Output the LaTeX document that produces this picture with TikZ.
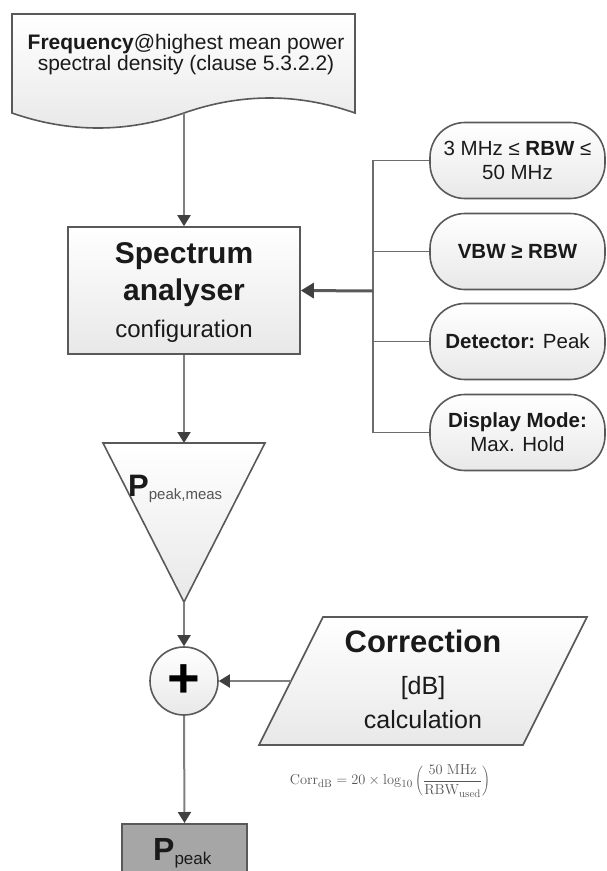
\documentclass[tikz,border=0pt]{standalone}
\usepackage[no-math]{fontspec}
\setmainfont{Liberation Sans}
\usetikzlibrary{arrows.meta}
\definecolor{lineC}{HTML}{595959}
\definecolor{connC}{HTML}{7F7F7F}
\definecolor{tipC}{HTML}{404040}
\definecolor{txtC}{HTML}{1A1A1A}
\definecolor{subC}{HTML}{555555}
\definecolor{boxFill}{HTML}{A6A6A6}
\tikzset{
  shapeline/.style={draw=lineC, line width=1.6pt},
  shaded/.style={top color=white, bottom color=black!9},
  conn/.style={draw=connC, line width=2pt, -{Triangle[length=11pt,width=13pt,color=tipC]}},
  branch/.style={draw=connC!85!black, line width=1.6pt},
  pill/.style={shapeline, shaded, rounded corners=35pt, minimum width=175pt, minimum height=76pt,
    inner sep=0pt, align=center, font=\fontsize{20.5}{24}\selectfont, text=txtC},
  txt/.style={text=txtC, inner sep=0pt, anchor=base},
}
\begin{document}
\begin{tikzpicture}[x=1pt,y=-1pt]
\useasboundingbox (0,0) rectangle (607,871);
\clip (0,0) rectangle (607,871);
% document shape
\path[shapeline, shaded] (12,14) -- (355,14) -- (355,113)
  .. controls (298,93) and (241,93) .. (184,113)
  .. controls (127,133) and (69,133) .. (12,113) -- cycle;
\node[txt, font=\fontsize{21}{20}\selectfont] (doc1) at (186,49) {\textbf{Frequency}@highest mean power};
\node[txt, font=\fontsize{21}{20}\selectfont] (doc2) at (186,70) {spectral density (clause 5.3.2.2)};
\coordinate (docb) at (184,113);
% spectrum analyser box
\node[rectangle, shapeline, shaded, minimum width=232pt, minimum height=127pt, inner sep=0pt] (spec) at (184,290.5) {};
\node[txt, font=\fontsize{30}{30}\selectfont\bfseries] (spec1) at (184,263) {Spectrum};
\node[txt, font=\fontsize{30}{30}\selectfont\bfseries] (spec2) at (184,300) {analyser};
\node[txt, font=\fontsize{24}{24}\selectfont] (spec3) at (184,337) {configuration};
\draw[conn] (docb) -- (spec.north);
% pills
\node[pill] (p1) at (517.5,160.5) {3 MHz ≤ \textbf{RBW} ≤\\50 MHz};
\node[pill] (p2) at (517.5,251.5) {\textbf{VBW ≥ RBW}};
\node[pill] (p3) at (517.5,341.5) {\textbf{Detector:} Peak};
\node[pill] (p4) at (517.5,432.5) {\textbf{Display Mode:}\\Max. Hold};
\coordinate (j) at (373,291);
\draw[branch] (p1.west) -- (p1.west -| j) -- (p4.west -| j) -- (p4.west);
\draw[branch] (p2.west) -- (p2.west -| j);
\draw[branch] (p3.west) -- (p3.west -| j);
\draw[draw=lineC, line width=3pt, -{Triangle[length=13pt,width=15pt,color=tipC]}] (j) -- (spec.east);
% triangle
\path[shapeline, shaded] (103,443) -- (265,443) -- (184,602) -- cycle;
\coordinate (tritop) at (184,443);
\coordinate (triapex) at (184,602);
\draw[conn] (spec.south) -- (tritop);
\node[txt, anchor=base west] (pmeas) at (128,496) {\fontsize{31}{31}\selectfont\textbf{P}\raisebox{-3pt}{\fontsize{15}{15}\selectfont\color{subC}peak,meas}};
% sum circle
\node[circle, shapeline, shaded, minimum size=68pt, inner sep=0pt, text=black,
  font=\fontsize{56}{56}\selectfont\bfseries] (sum) at (184,681) {+};
\draw[conn] (triapex) -- (sum.north);
% correction parallelogram
\path[shapeline, shaded] (323,617) -- (587,617) -- (523,745) -- (259,745) -- cycle;
\coordinate (corrw) at (291,681);
\node[txt, font=\fontsize{31}{31}\selectfont\bfseries] (corr1) at (423,652) {Correction};
\node[txt, font=\fontsize{25}{25}\selectfont] (corr2) at (423,694) {[dB]};
\node[txt, font=\fontsize{25}{25}\selectfont] (corr3) at (423,728) {calculation};
\draw[conn] (corrw) -- (sum.east);
% formula
\node[text=subC, inner sep=0pt, font=\fontsize{15.5}{15.5}\selectfont] (formula) at (390,781)
  {$\displaystyle\mathrm{Corr_{dB}} = 20\times\log_{10}\left(\frac{\mathrm{50\ MHz}}{\mathrm{RBW_{used}}}\right)$};
% P_peak box
\node[rectangle, draw=lineC, line width=1.5pt, fill=boxFill, minimum width=125pt, minimum height=80pt,
  anchor=north, inner sep=0pt] (ppeak) at (184.5,823) {};
\node[txt, anchor=base west] (ppeaklbl) at (153,860) {\fontsize{32}{32}\selectfont\textbf{P}\raisebox{-4pt}{\fontsize{17}{17}\selectfont peak}};
\draw[conn] (sum.south) -- (ppeak.north);
\end{tikzpicture}
\end{document}
